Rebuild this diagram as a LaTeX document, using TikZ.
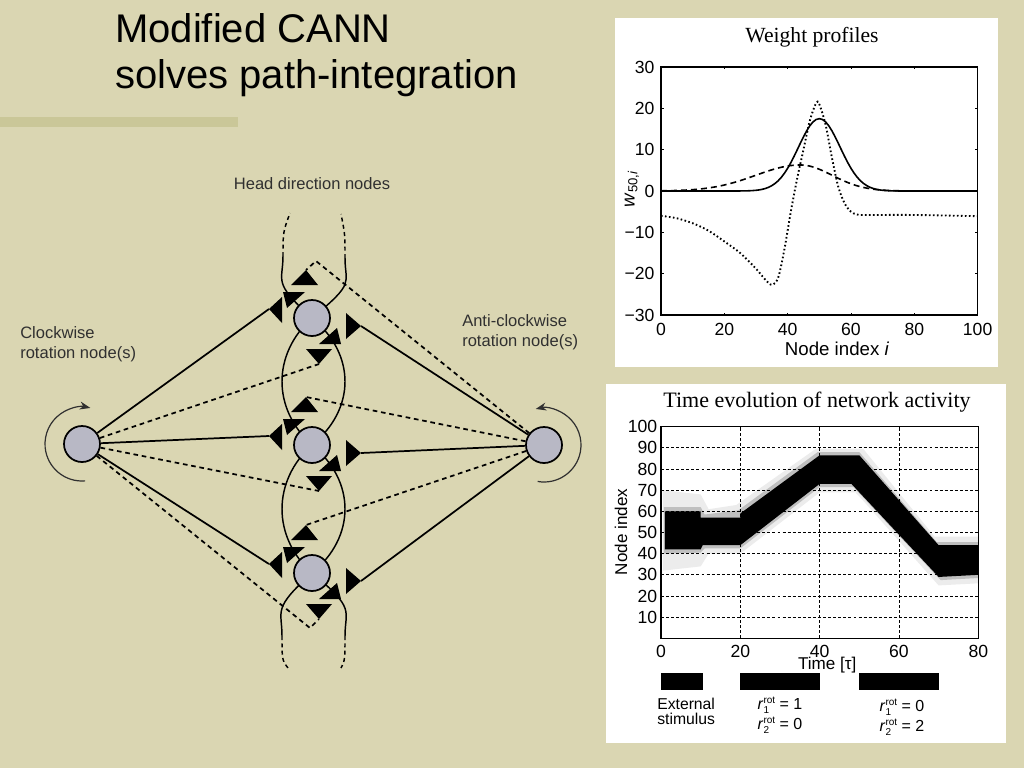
\documentclass[tikz,border=0pt]{standalone}
\usepackage{fontspec}
\setmainfont{Liberation Sans}
\newfontfamily\plotserif{Liberation Serif}
\usetikzlibrary{arrows.meta,calc}
\pgfdeclarelayer{bg}
\pgfdeclarelayer{wires}
\pgfsetlayers{bg,wires,main}
\definecolor{slidebg}{RGB}{218,214,178}
\definecolor{slidebar}{RGB}{202,199,152}
\definecolor{hdfill}{RGB}{184,184,197}
\definecolor{labelgrey}{RGB}{48,48,48}
\newcommand{\rrot}[1]{\textit{r}\rlap{\raisebox{-2.6pt}{\fontsize{7.5}{8}\selectfont #1}}\raisebox{4.6pt}{\fontsize{7.5}{8}\selectfont rot}}
\tikzset{
  unit/.style={circle,draw=black,line width=1.3pt,fill=hdfill,minimum size=27pt,inner sep=0pt},
  link/.style={line width=1.3pt},
  dlink/.style={line width=1.3pt,dash pattern=on 3.5pt off 2.8pt},
  strand/.style={line width=1.1pt},
  dstrand/.style={line width=1.1pt,dash pattern=on 3pt off 2.5pt},
  rotarrow/.style={labelgrey,line width=0.9pt,-{Stealth[length=8pt,width=6pt]}},
  lbl/.style={font=\fontsize{12.4}{15}\selectfont,text=labelgrey,align=left,inner sep=0pt},
  ticklbl/.style={font=\fontsize{13.2}{15}\selectfont,inner sep=0pt},
  axlbl/.style={font=\fontsize{14}{16}\selectfont,inner sep=0pt},
  gridline/.style={line width=0.6pt,dash pattern=on 2.2pt off 1.6pt},
}
\begin{document}
\begin{tikzpicture}[x=0.75pt,y=0.75pt,yscale=-1,xscale=1]
% Slide background
\begin{pgfonlayer}{bg}
\fill[slidebg] (0,0) rectangle (1024,768);
\fill[slidebar] (0,117) rectangle (238,127);
\end{pgfonlayer}

% Text Node
\node[anchor=base west,inner sep=0pt,font=\fontsize{30}{36}\selectfont] (title1) at (115,42) {Modified CANN};
\node[anchor=base west,inner sep=0pt,font=\fontsize{30}{36}\selectfont] (title2) at (115,88) {solves path-integration};

%Shape: Circle
\node[unit] (cw) at (82,444) {};
\node[unit] (hd1) at (312,318) {};
\node[unit] (hd2) at (312,445) {};
\node[unit] (hd3) at (312,573) {};
\node[unit] (acw) at (544,445) {};

% synapse triangles round each head direction node
\foreach \n in {hd1,hd2,hd3}{
  \begin{scope}[shift={(\n.center)}]
    \coordinate (\n-up) at (-6,-48);
    \coordinate (\n-dn) at (7,46);
    \coordinate (\n-in) at (-43,-9);
    \coordinate (\n-out) at (49,8);
    \fill (-21,-33) -- (6,-33) -- (\n-up) -- cycle;
    \fill (-6,31) -- (20,31) -- (\n-dn) -- cycle;
    \fill (-30,-21) -- (-30,5) -- (\n-in) -- cycle;
    \fill (34,-5) -- (34,21) -- (\n-out) -- cycle;
    \fill (-29,-26) -- (-7,-26) -- (-25,-10) -- cycle;
    \fill (29,26) -- (7,26) -- (25,10) -- cycle;
  \end{scope}
}
\coordinate (kneetop) at ($(hd1)+(4,-57)$);
\coordinate (kneebot) at ($(hd3)+(-2,55)$);
\coordinate (tl) at (283,256);
\coordinate (tle) at (290,213);
\coordinate (tr) at (345,258);
\coordinate (tre) at (341,214);
\coordinate (bl) at (282,636);
\coordinate (ble) at (288,668);
\coordinate (br) at (345,636);
\coordinate (bre) at (341,668);

\begin{pgfonlayer}{wires}
% collateral strands
\draw[strand] (hd1.center) .. controls +(-40,36) and +(-40,-36) .. (hd2.center) .. controls +(-40,36) and +(-40,-36) .. (hd3.center);
\draw[strand] (hd1.center) .. controls +(44,36) and +(44,-36) .. (hd2.center) .. controls +(44,36) and +(44,-36) .. (hd3.center);
\draw[strand] (hd1.center) .. controls +(-40,-36) and +(0,26) .. (tl);
\draw[strand] (hd1.center) .. controls +(44,-36) and +(0,26) .. (tr);
\draw[strand] (hd3.center) .. controls +(-40,36) and +(0,-26) .. (bl);
\draw[strand] (hd3.center) .. controls +(44,36) and +(0,-26) .. (br);
\draw[dstrand] (tl) .. controls +(0,-24) .. (tle);
\draw[dstrand] (tr) .. controls +(0,-24) .. (tre);
\draw[dstrand] (bl) .. controls +(0,24) .. (ble);
\draw[dstrand] (br) .. controls +(0,24) .. (bre);

% rotation node connections
\foreach \n in {hd1,hd2,hd3}{
  \draw[link] (cw) -- (\n-in);
  \draw[link] (acw) -- (\n-out);
}
\draw[dlink] (cw) -- (hd1-dn);
\draw[dlink] (cw) -- (hd2-dn);
\draw[dlink] (cw) -- (kneebot) -- (hd3-dn);
\draw[dlink] (acw) -- (kneetop) -- (hd1-up);
\draw[dlink] (acw) -- (hd2-up);
\draw[dlink] (acw) -- (hd3-up);
\end{pgfonlayer}

% rotation arrows
\draw[rotarrow] ([shift={(85:37)}]cw.center) arc[start angle=85,end angle=283,radius=37];
\draw[rotarrow] ([shift={(100:37)}]acw.center) arc[start angle=100,end angle=-103,radius=37];

% Text Node
\node[lbl,anchor=center] (hdlabel) at (312,184) {Head direction nodes};
\node[lbl,anchor=west] (cwlabel) at (20,344) {Clockwise\\rotation node(s)};
\node[lbl,anchor=west] (acwlabel) at (462,332) {Anti-clockwise\\rotation node(s)};

%Shape: Rectangle (weight profiles panel)
\fill[white] (615,18) rectangle (998,367);
\node[font=\plotserif\fontsize{16.2}{18}\selectfont,inner sep=0pt] (wtitle) at (812,37) {Weight profiles};
\begin{scope}[shift={(661,191)},xscale=3.166,yscale=-4.133]
  \draw[line width=1.1pt] (0,-30) rectangle (100,30);
  \foreach \v/\t in {-30/−30,-20/−20,-10/−10,0/0,10/10,20/20,30/30}{
    \draw[line width=0.6pt] (0,\v) -- (0.8,\v) (100,\v) -- (99.2,\v);
    \node[ticklbl,anchor=east] (wy\v) at (-2,\v) {\t};
  }
  \foreach \u in {0,20,...,100}{
    \draw[line width=0.6pt] (\u,-30) -- (\u,-29.4) (\u,30) -- (\u,29.4);
    \node[ticklbl,anchor=north] (wx\u) at (\u,-32) {\u};
  }
  \draw[line width=1.2pt] plot[domain=0:100,samples=101] (\x,{17.5*exp(-((\x-50)*(\x-50))/86.4)});
  \draw[line width=1.2pt,dash pattern=on 4.5pt off 3pt] plot[domain=0:100,samples=101] (\x,{6.3*exp(-((\x-44)*(\x-44))/ifthenelse(\x<44,392,200))});
  \draw[line width=1.4pt,dash pattern=on 1.2pt off 1.8pt] plot[smooth,tension=0.5] coordinates {(0,-6) (5,-6.6) (10,-7.8) (15,-9.6) (20,-12.2) (25,-15) (30,-18.8) (33,-21.5) (35,-22.7) (37,-21) (39,-14) (41,-5) (43,3) (45,10) (47,17) (49,21.3) (50,21) (52,16) (54,8) (56,1) (58,-3) (60,-5) (62,-5.7) (65,-5.8) (80,-5.8) (100,-6.1)};
  \node[axlbl] (wxlabel) at (55.6,-38.2) {Node index \textit{i}};
  \node[axlbl,rotate=90] (wylabel) at (-9.2,0.5) {\textit{w}\textsubscript{50,\textit{i}}};
\end{scope}

%Shape: Rectangle (network activity panel)
\fill[white] (606,384) rectangle (1006,743);
\node[font=\plotserif\fontsize{16.5}{18}\selectfont,inner sep=0pt] (ttitle) at (817,402) {Time evolution of network activity};
\begin{scope}[shift={(661,638.3)},xscale=3.966,yscale=-2.116]
  \fill[gray!15] (0.5,32) -- (10,34) -- (12,40) -- (20,40) -- (40,69) -- (49,69) -- (51,65) -- (70,25) -- (80,26) -- (80,48) -- (69,48) -- (51,89.5) -- (39,89.5) -- (19,63) -- (12,61) -- (10,68) -- (0.5,70) -- cycle;
  \fill[gray!50] (0.7,40) -- (10,40.5) -- (11,42.5) -- (20,42.5) -- (40,71.5) -- (48.5,71.5) -- (50.5,67.5) -- (70.5,27.5) -- (80,28.5) -- (80,45.5) -- (69.5,45.5) -- (50,88) -- (39.5,88) -- (19.5,60.5) -- (11,58.5) -- (10,62) -- (0.7,62) -- cycle;
  \fill (1,42) -- (10,42) -- (10.5,44) -- (20,44) -- (40,73) -- (48,73) -- (50,69) -- (70,29) -- (80,30) -- (80,44) -- (70,44) -- (50,86.5) -- (40,86.5) -- (20,59) -- (20,57) -- (10,57) -- (10,60) -- (1,60) -- cycle;
  \foreach \v in {10,20,...,90}
    \draw[gridline] (0,\v) -- (80,\v);
  \foreach \u in {20,40,60}
    \draw[gridline] (\u,0) -- (\u,100);
  \draw[line width=1.1pt] (0,0) rectangle (80,100);
  \foreach \v in {10,20,...,100}{
    \draw[line width=0.6pt] (0,\v) -- (0.6,\v) (80,\v) -- (79.4,\v);
    \node[ticklbl,anchor=east] (ty\v) at (-0.9,\v) {\v};
  }
  \foreach \u in {0,20,...,80}{
    \draw[line width=0.6pt] (\u,0) -- (\u,1.2) (\u,100) -- (\u,98.8);
    \node[ticklbl,anchor=north] (tx\u) at (\u,-3.2) {\u};
  }
  \node[axlbl,font=\fontsize{12.8}{15}\selectfont] (txlabel) at (41.9,-12.6) {Time [τ]};
  \node[axlbl,font=\fontsize{12.8}{15}\selectfont,rotate=90] (tylabel) at (-10.1,50.2) {Node index};
  %Shape: Rectangle (input bars)
  \fill (0,-16.4) rectangle (10.6,-24.4);
  \fill (20,-16.4) rectangle (40,-24.4);
  \fill (50,-16.4) rectangle (70,-24.4);
\end{scope}
\node[font=\fontsize{11.8}{11}\selectfont,align=left,anchor=north west,inner sep=0pt] (extlbl) at (657,698) {External\\stimulus};
\node[font=\fontsize{12}{15}\selectfont,align=left,inner sep=0pt] (rfirst) at (780,715) {\rrot{1} = 1\\\rrot{2} = 0};
\node[font=\fontsize{12}{15}\selectfont,align=left,inner sep=0pt] (rsecond) at (902,717) {\rrot{1} = 0\\\rrot{2} = 2};
\end{tikzpicture}
\end{document}
